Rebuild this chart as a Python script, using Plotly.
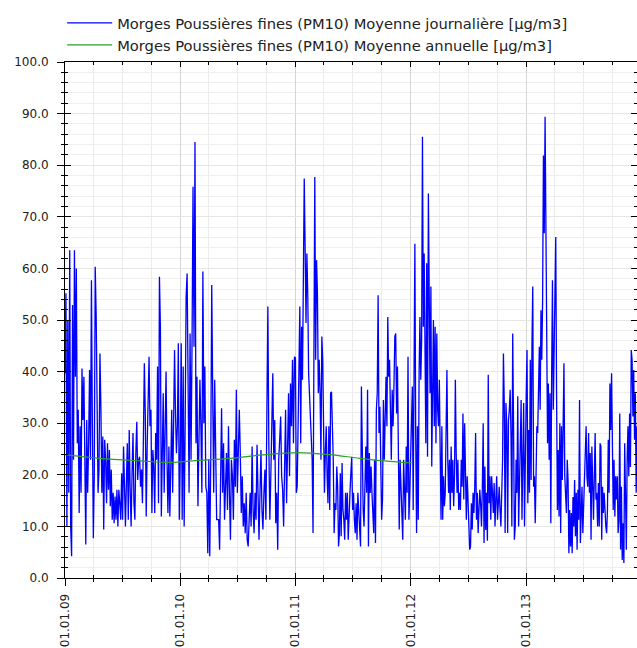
import plotly.graph_objects as go
import pandas as pd

# ---- data (µg/m3) ----
pm10_2009 = [39.7,55.2,10,50,16.5,63.5,10,4.2,52.9,22.9,63.5,39,60,26.1,32.6,12.6,29.4,16.5,40.6,30.6,39,16.5,6.5,
             30.6,16.5,26.1,40.3,22.9,57.7,29.4,7.7,19.7,60.3,51,35.8,16.5,21,43.5,33.2,16.5,27.4,9.4,26.8,22.9,14.5,
             26.1,17.1,24.8,13.9,21,11.3,16.5,10.6,15.8,11.3,17.1,10,17.1,14.5,11.3,20.3,11.3,25.5,16.5,10,18.4,26.1,
             11.3,28.7,17.1,10,20.3,28.1,14.5,11.3,24.2,30.3,19,22.9,23.5,17.7,21,14.5,26.8,41.6,31.9,11.9,25.5,36.5,
             42.9,29.4,32.6,12.6,24.8,21.6,12.6,28.1,22.9,41,14.5,58.4,48.7,11.9,29.4,35.8,16.5,32.6,40,22.9,12.6,25.5,
             11.9,21.6,32.6,16.5,35.8,44.2,31.9,24.2,29.4,45.5,11.3]
pm10_2010 = [22.9,45.5,11.3,41,10,29.4,54.5,59,26.1,16.5,47.4,22.9,45.5,75.8,44.8,84.5,26.1,39,13.9,
             24.2,38.4,29.4,16.5,59.4,30,41,17.7,16.5,4.8,22.9,4.2,22.9,56.8,35.8,16.5,38.4,19.7,11.3,11.3,
             11.3,5.5,22.9,32.9,16.5,26.1,11.3,19.7,24.2,13.2,29.4,16.5,7.4,22.9,19.7,11.3,26.8,17.7,36.5,16.5,
             22.9,32.6,24.2,12.6,19.7,10,14.5,8.7,16.5,7.4,6.1,13.9,16.5,10,25.5,13.2,8.7,16.5,11.3,25.8,16.5,
             7.4,16.5,24.8,13.2,9.4,16.5,21,11.3,36.8,52.6,25.5,11.3,19.7,29.4,39.7,22.9,30.6,10.6,16.5,5.5,
             22.9,26.8,31.3,19.7,17.1,10,26.1,32.6,14.5,22.9,35.8,19.7,37.7,29.4,42.3,26.1,42.9]
pm10_2011 = [42.6,16.5,17.7,27.4,35.8,52.6,26.1,48.7,38.4,57.7,77.4,64.2,49.4,62.9,55.2,39.7,35.8,29.4,28.1,22.9,
             8.7,57.7,77.7,42.3,61.6,55.2,35.8,42.3,35.8,22.9,46.8,42.3,26.8,16.5,24.2,29.4,19.7,14.5,29.4,13.2,
             35.8,36.1,29.4,22.9,8.7,14.5,13.2,21.6,17.7,6.1,8.7,20.3,8.1,22.3,13.2,11.3,7.4,16.5,11.3,16.5,7.4,
             14.5,16.5,20.3,23.5,13.2,16.5,11.3,8.7,14.5,7.4,16.5,13.2,11.3,6.1,37.1,16.5,13.2,10,19.7,25.5,16.5,
             36.5,6.1,24.2,16.5,21.6,16.5,11.3,8.7,22.9,6.8,32.6,35.8,54.8,28.1,33.2,19.7,11.3,15.2,34.5,22.9,
             33.9,39,29.4,50.6,39,42.3,32.6,22.9,36.5,29.4,37.1,46.8,47.4,31.9,41,24.2,9.4,22.9,16.5,11.3,7.4,
             22.9,16.5,11.3,25.5,16.5,42.9,11.3,16.5]
pm10_2012 = [26.1,34.5,37.1,13.2,33.9,64.8,27.4,8.7,29.4,11.3,39.7,50.6,38.4,46.1,85.5,48.7,62.9,42.3,26.1,61,
             23.5,74.5,56.5,35.8,56.5,21.6,35.8,50,29.4,48.7,26.1,47.4,32.6,29.4,38.4,22.9,11.3,29.4,11.3,19.7,
             13.9,16.5,30.6,40.3,22.9,16.5,22.9,13.2,25.5,16.5,22.9,13.9,19.7,38.4,24.2,16.5,22.9,13.2,16.5,13.2,
             22.9,17.7,31.9,15.2,30,13.9,11.3,19.7,15.8,10,5.5,6.1,14.5,9.4,16.5,12.6,17.7,28.1,11.3,16.5,8.7,
             13.2,17.1,14.3,10,17.7,30,6.8,21.6,9.3,16.5,7.2,39.4,14.5,19.7,11.3,19.7,16.5,12.6,18.4,10,15.2,
             19.7,11.3,16.5,17.7,13.2,10,16.5,22.9,43.5,33.9,8.7,33.9,29.4,8.7,30.6,32.6,36.5,27.4,10,47.4,29.4,
             7.4,10,22.9,16.5,35.2,10,22.9,26.1,34.5,11.3,22.9,33.9,10,29.4]
pm10_2013 = [35.2,44.2,14.5,28.7,16.5,42.3,19,44.8,56.5,17.7,19.7,10.6,22.9,29.4,28.1,35.2,44.8,32.6,51.9,42.3,
             53.9,81.9,66.8,89.4,61.6,42.3,26.1,37.7,22.9,35.8,10.6,39,57.7,32.6,47.4,56.5,66.1,35.8,13.2,24.8,
             11.9,30,8.7,29.4,19,29.4,41.6,19.7,16.5,12.6,22.9,19,4.8,13.2,6.1,12.6,4.8,15.7,10,19,8.1,16.5,5.5,
             17.1,11.3,34.5,6.8,13.2,17.7,8.7,14.5,19.7,22.9,29.4,19.7,17.7,28.1,16.5,24.2,7.4,25.5,16.5,11.3,
             19.7,28.1,15.2,16.5,10,18.4,10,26.1,25.5,7.4,17.7,12.6,16.5,11.9,10,8.7,13.2,26.8,16.5,37.7,28.7,
             39.7,29.4,13.2,22.9,11.9,19.7,15.2,19.7,8.7,11.3,31.9,5.5,17.7,3.5,10.6,2.9,26.1,15.7,5.5,22.9,29.4,
             19.7,31.9,21.5,44.2,42.3,31.3,40.3,26.8,35.8,16.5,29.4]

year_starts = ["2009-01-01", "2010-01-01", "2011-01-01", "2012-01-01", "2013-01-01"]
last_day = "2013-12-18"

annual_dates = ["2009-01-01", "2009-04-20", "2009-08-26", "2009-11-29", "2010-03-04", "2010-06-08",
                "2010-09-10", "2011-01-09", "2011-04-19", "2011-07-24", "2011-10-27", "2012-01-04"]
annual_values = [23.9, 23.2, 22.7, 22.4, 22.8, 23.2, 23.8, 24.3, 23.9, 23.2, 22.6, 22.3]

name_daily = "Morges Poussières fines (PM10) Moyenne journalière [µg/m3]"
name_annual = "Morges Poussières fines (PM10) Moyenne annuelle [µg/m3]"

# ---- build the daily series ----
yearly = [pm10_2009, pm10_2010, pm10_2011, pm10_2012, pm10_2013]
dates, values = [], []
for i, vals in enumerate(yearly):
    if i < len(yearly) - 1:
        d = pd.date_range(year_starts[i], year_starts[i + 1], periods=len(vals) + 1)[:-1]
    else:
        d = pd.date_range(year_starts[i], last_day, periods=len(vals))
    dates.extend(d)
    values.extend(vals)

FONT = "DejaVu Sans"
xr = [year_starts[0], last_day]
yr = [0, 100]

fig = go.Figure()
fig.add_trace(go.Scatter(x=dates, y=values, mode="lines", name=name_daily,
                         line=dict(color="#0000ff", width=1.3)))
fig.add_trace(go.Scatter(x=annual_dates, y=annual_values, mode="lines", name=name_annual,
                         line=dict(color="#2e9e2e", width=1.2, shape="spline")))
# empty trace to host the overlaid tick axes
fig.add_trace(go.Scatter(x=[], y=[], xaxis="x2", yaxis="y2", showlegend=False, hoverinfo="skip"))

fig.update_layout(
    width=637, height=648,
    margin=dict(l=65, r=0, t=62, b=70),
    paper_bgcolor="white", plot_bgcolor="white",
    font=dict(family=FONT, size=12, color="#222"),
    showlegend=True,
    legend=dict(x=-0.005, y=1.107, xanchor="left", yanchor="top", orientation="v",
                font=dict(family=FONT, size=14.7, color="#222"),
                bgcolor="rgba(0,0,0,0)", itemwidth=45, tracegroupgap=0),
    xaxis=dict(type="date", range=xr, tickformat="%d.%m.%y", dtick="M12", tick0="2009-01-01",
               tickangle=-90, ticks="outside", ticklen=7, tickcolor="#000", tickwidth=1,
               showline=True, linecolor="#000", linewidth=1, mirror=True,
               showgrid=True, gridcolor="#d6d6d6", gridwidth=1, zeroline=False,
               ticklabelstandoff=3, tickfont=dict(family=FONT, size=12, color="#222"),
               minor=dict(dtick="M3", ticks="outside", ticklen=3, tickcolor="#000",
                          showgrid=True, gridcolor="#ececec", gridwidth=1)),
    xaxis2=dict(type="date", range=xr, overlaying="x", anchor="y", dtick="M12", tick0="2009-01-01",
                ticks="inside", ticklen=5, tickcolor="#000", mirror="ticks", showline=False,
                showticklabels=False, showgrid=False, zeroline=False,
                minor=dict(dtick="M3", ticks="inside", ticklen=3, tickcolor="#000", showgrid=False)),
    yaxis=dict(range=yr, dtick=10, tickformat=".1f", ticks="outside", ticklen=7, tickcolor="#000",
               showline=True, linecolor="#000", linewidth=1, mirror=False,
               showgrid=True, gridcolor="#e6e6e6", gridwidth=1, zeroline=False,
               ticklabelstandoff=6, tickfont=dict(family=FONT, size=12, color="#222"),
               minor=dict(dtick=2, ticks="outside", ticklen=3, tickcolor="#000",
                          showgrid=True, gridcolor="#efefef", gridwidth=1)),
    yaxis2=dict(range=yr, overlaying="y", anchor="x", side="left", dtick=10,
                ticks="inside", ticklen=6, tickcolor="#000", mirror="ticks", showline=False,
                showticklabels=False, showgrid=False, zeroline=False,
                minor=dict(dtick=2, ticks="inside", ticklen=3, tickcolor="#000", showgrid=False)),
)

fig.write_html("out.html")
